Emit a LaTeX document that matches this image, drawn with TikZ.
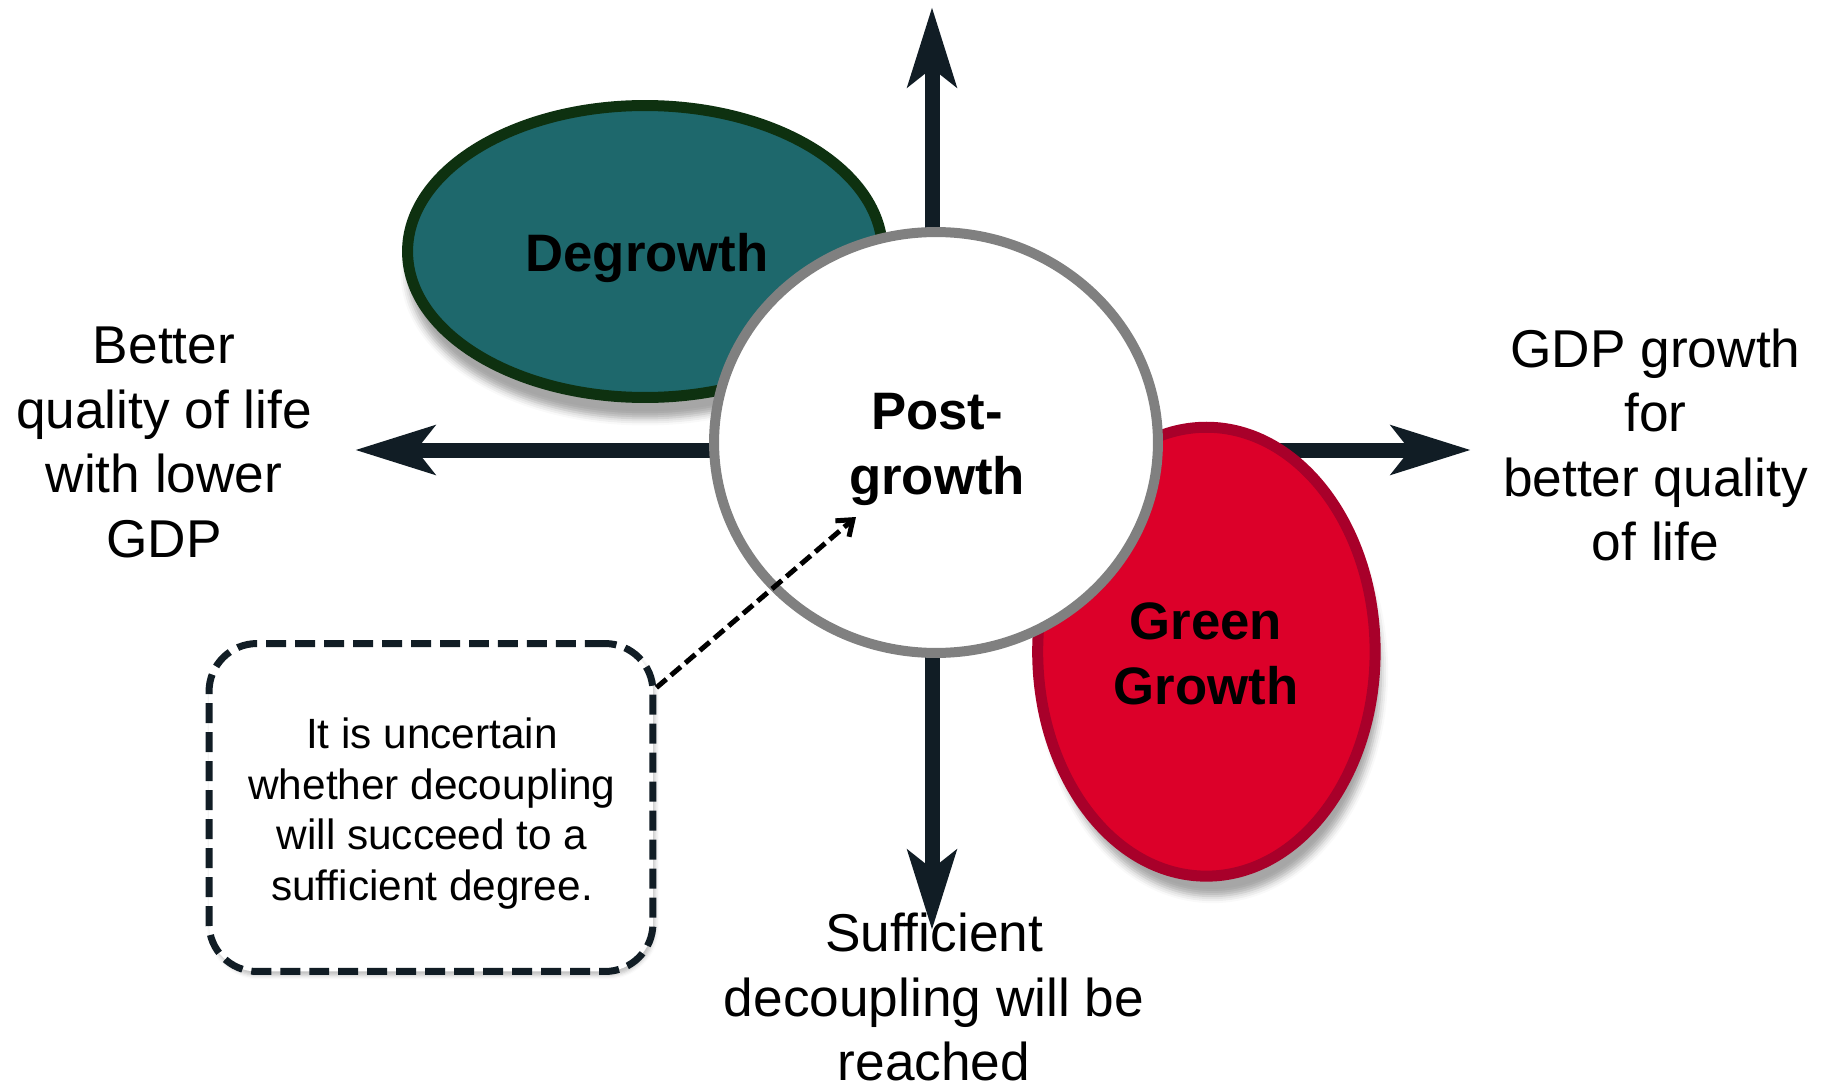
\documentclass[tikz,border=0pt]{standalone}
\usepackage{fontspec}
\setmainfont{Liberation Sans}
\usetikzlibrary{arrows.meta,shapes.geometric,shadows.blur}
\definecolor{tealc}{HTML}{1E686C}
\definecolor{tealb}{HTML}{0E3110}
\definecolor{redc}{HTML}{DC0029}
\definecolor{redb}{HTML}{A8002A}
\definecolor{arrowc}{HTML}{111D25}
\definecolor{grayc}{HTML}{808080}
\begin{document}
\begin{tikzpicture}[x=0.02cm,y=-0.02cm,
  axis/.style={line width=0.3cm, draw=arrowc, -{Stealth[length=1.58cm,width=0.96cm,inset=0.36cm,fill=arrowc]}},
  lbl/.style={font=\fontsize{30.3}{36.7}\selectfont, align=center, text=black, inner sep=0pt},
  boldlbl/.style={font=\fontsize{30}{36.8}\selectfont\bfseries, align=center, text=black, inner sep=0pt},
  bubble/.style={shape=ellipse, inner sep=0pt, line width=0.22cm},
  dasharrow/.style={line width=0.1cm, draw=black, dash pattern=on 0.26cm off 0.12cm, -{Straight Barb[length=0.28cm,width=0.42cm]}},
  notebox/.style={draw=arrowc, line width=0.14cm, dash pattern=on 0.4cm off 0.18cm, rounded corners=0.96cm, fill=white, inner sep=0pt},
  notetext/.style={font=\fontsize{24.1}{28.9}\selectfont, align=center, text=black, inner sep=0pt}
]
\useasboundingbox (0,0) rectangle (1826,1088);
% axes
\coordinate (o) at (932,450);
\coordinate (top) at (932,7);
\coordinate (bot) at (932,930);
\coordinate (lft) at (355,450);
\coordinate (rgt) at (1471,450);
\draw[axis] (o) -- (top);
\draw[axis] (o) -- (bot);
\draw[axis] (o) -- (lft);
\draw[axis] (o) -- (rgt);
% bubbles
\node[bubble, fill=tealc, draw=tealb, minimum width=9.5cm, minimum height=5.84cm,
  blur shadow={shadow xshift=0cm, shadow yshift=-0.42cm, shadow blur radius=0.14cm, shadow opacity=35}] (deg) at (645,251.5) {};
\node[boldlbl] (degt) at (647,258) {Degrowth};
\node[bubble, fill=redc, draw=redb, minimum width=6.75cm, minimum height=8.98cm,
  blur shadow={shadow xshift=0.12cm, shadow yshift=-0.4cm, shadow blur radius=0.14cm, shadow opacity=35}] (gg) at (1206.4,651.7) {};
\node[boldlbl] (ggt) at (1206,654) {Green\\Growth};
\node[bubble, line width=0.2cm, fill=white, draw=grayc, minimum width=8.88cm, minimum height=8.42cm] (pg) at (936,442.5) {};
\node[boldlbl] (pgt) at (937,449.5) {Post-\\growth};
% note box
\node[notebox, minimum width=8.88cm, minimum height=6.56cm,
  blur shadow={shadow xshift=0.04cm, shadow yshift=-0.08cm, shadow blur radius=0.08cm, shadow opacity=25}] (box) at (431,807.5) {};
\node[notetext] (boxt) at (432,813.5) {It is uncertain\\whether decoupling\\will succeed to a\\sufficient degree.};
\coordinate (tgt) at (856,517);
\draw[dasharrow] (box.28) -- (tgt);
% labels
\node[lbl] (l1) at (164,442.6) {Better\\quality of life\\with lower\\GDP};
\node[lbl] (l2) at (1655.5,445) {GDP growth\\for\\better quality\\of life};
\node[lbl] (l3) at (934,997) {Sufficient\\decoupling will be\\reached};
\end{tikzpicture}
\end{document}
